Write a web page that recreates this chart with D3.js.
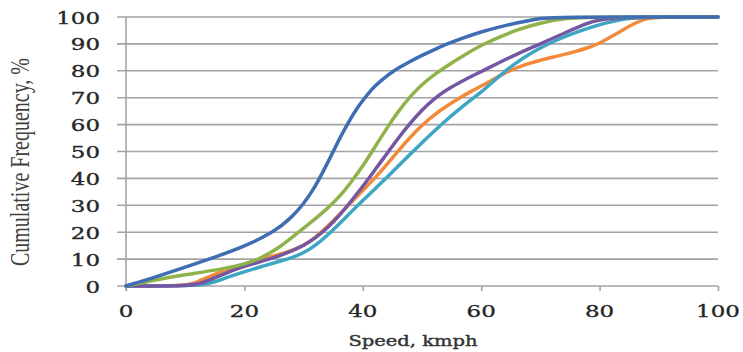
<!DOCTYPE html>
<html>
<head>
<meta charset="utf-8">
<script src="https://cdn.jsdelivr.net/npm/d3@7"></script>
<style>
  body { margin: 0; background: #fff; }
  svg { display: block; }
</style>
</head>
<body>
<script>
// speed ticks and cumulative frequency ticks
const xTicks = [0, 20, 40, 60, 80, 100];
const yTicks = [0, 10, 20, 30, 40, 50, 60, 70, 80, 90, 100];

// each series: [speed kmph, cumulative frequency %]
const blueSeries = [[0,0],[5,3.3],[10,7],[15,10.7],[20,14.7],[25,20],[28,25.5],[30,30.5],[32,37],[34,45.5],[36,54.5],[37,58.5],[38,62.5],[39,66],[40,69],[41,71.8],[42,74.2],[43,76.2],[44,78],[45,79.6],[46,81],[48,83.5],[50,85.8],[52,87.8],[54,89.8],[57,92.3],[60,94.5],[63,96.3],[66,97.8],[69,99.2],[72,100],[100,100]];
const greenSeries = [[0,0],[5,2.3],[10,4.2],[15,5.8],[20,8],[23,10.5],[26,14.5],[28,18],[30,21.5],[32,25],[34,28.8],[36,33],[38,38.5],[40,44.5],[42,51.5],[44,58.5],[46,65],[48,70.5],[50,75],[52,78.5],[55,83],[58,87],[60,89.5],[63,92.5],[66,95.2],[70,97.8],[74,99.5],[78,100],[100,100]];
const purpleSeries = [[0,0],[11,0],[13,1.2],[15,3],[18,5.8],[20,7.3],[23,9.2],[26,11.3],[28,13],[30,15],[32,17.8],[34,21.5],[36,26],[38,31.5],[40,37],[42,43],[44,49],[46,55],[48,60.5],[50,65.5],[52,69.5],[54,72.8],[57,76.5],[60,79.7],[63,83],[66,86.2],[70,90],[74,94],[78,97.8],[81,100],[100,100]];
const orangeSeries = [[0,0],[10.3,0],[12,1.5],[14,3.5],[17,6],[20,8.3],[23,10],[26,11.8],[28,13.2],[30,15],[32,18],[34,22],[36,26.5],[38,31],[40,35.5],[42,40],[44,45],[46,50.3],[48,55.3],[50,59.8],[52,63.5],[54,66.7],[56,69.5],[58,72],[60,74.3],[62,76.8],[64,79.2],[66,81.2],[68,82.7],[70,84],[73,85.5],[76,87.2],[78,88.5],[80,90.2],[82,92.7],[84,95.3],[86,97.8],[88,99.5],[89.5,100],[100,100]];
const tealSeries = [[0,0],[12.5,0],[15,1.5],[17.5,3.5],[20,5.3],[23,7.3],[26,9.2],[28,10.5],[30,12.3],[32,15],[34,18.8],[36,23],[38,27.5],[40,31.8],[42,36],[44,40.2],[46,44.6],[48,49],[50,53.3],[52,57.5],[54,61.5],[56,65.2],[58,68.8],[60,72],[62,76],[64,79.8],[66,83.1],[68,86],[70,88.5],[72,90.7],[75,93.5],[78,95.8],[81,97.8],[84,99.3],[87,100],[100,100]];

const series = [
  { data: orangeSeries, color: "#f28a3a" },
  { data: tealSeries, color: "#3ea6c2" },
  { data: purpleSeries, color: "#7456a3" },
  { data: greenSeries, color: "#8fb34a" },
  { data: blueSeries, color: "#3f6db3" }
];

const W = 743, H = 352;
const svg = d3.select("body").append("svg")
  .attr("width", W)
  .attr("height", H);

const x = d3.scaleLinear().domain([0, 100]).range([126, 718]);
const y = d3.scaleLinear().domain([0, 100]).range([286, 17]);

const stretch = 1.35; // the picture's text is wide, stretch it sideways

// horizontal grid lines (they poke out left of the axis)
svg.append("g")
  .selectAll("line")
  .data(yTicks)
  .enter().append("line")
  .attr("x1", 117)
  .attr("x2", x(100))
  .attr("y1", d => y(d))
  .attr("y2", d => y(d))
  .attr("stroke", "#a3a3a3")
  .attr("stroke-width", 1.6);

// y axis line
svg.append("line")
  .attr("x1", x(0)).attr("x2", x(0))
  .attr("y1", y(100)).attr("y2", y(0) + 5)
  .attr("stroke", "#a3a3a3")
  .attr("stroke-width", 1.6);

// x axis ticks
svg.append("g")
  .attr("transform", "translate(0," + y(0) + ")")
  .call(d3.axisBottom(x).tickValues(xTicks).tickSize(5).tickFormat(""))
  .call(g => g.select(".domain").remove())
  .selectAll("line")
  .attr("stroke", "#a3a3a3")
  .attr("stroke-width", 1.6);

// y tick labels
svg.append("g")
  .selectAll("text")
  .data(yTicks)
  .enter().append("text")
  .attr("transform", d => "translate(100," + (y(d) + 6.5) + ") scale(" + stretch + ",1)")
  .attr("text-anchor", "end")
  .style("font-family", "DejaVu Serif")
  .style("font-size", "17px")
  .style("fill", "#262626")
  .style("stroke", "#262626")
  .style("stroke-width", 0.35)
  .text(d => d);

// x tick labels
svg.append("g")
  .selectAll("text")
  .data(xTicks)
  .enter().append("text")
  .attr("transform", d => "translate(" + x(d) + ",317) scale(" + stretch + ",1)")
  .attr("text-anchor", "middle")
  .style("font-family", "DejaVu Serif")
  .style("font-size", "17px")
  .style("fill", "#262626")
  .style("stroke", "#262626")
  .style("stroke-width", 0.35)
  .text(d => d);

// the lines, smoothed like the spreadsheet does
const line = d3.line()
  .x(d => x(d[0]))
  .y(d => y(d[1]))
  .curve(d3.curveBasis);

svg.append("g")
  .selectAll("path")
  .data(series)
  .enter().append("path")
  .attr("d", d => line(d.data))
  .attr("fill", "none")
  .attr("stroke", d => d.color)
  .attr("stroke-width", 3.5)
  .attr("stroke-linejoin", "round")
  .attr("stroke-linecap", "round");

// axis titles
svg.append("text")
  .attr("transform", "translate(29,162) scale(" + stretch + ",1) rotate(-90)")
  .attr("text-anchor", "middle")
  .style("font-family", "Liberation Serif")
  .style("font-size", "20px")
  .style("fill", "#404040")
  .text("Cumulative Frequency, %");

svg.append("text")
  .attr("transform", "translate(413,346) scale(1.3,1)")
  .attr("text-anchor", "middle")
  .style("font-family", "DejaVu Serif")
  .style("font-size", "15px")
  .style("fill", "#333")
  .style("stroke", "#333")
  .style("stroke-width", 0.4)
  .text("Speed, kmph");
</script>
</body>
</html>
